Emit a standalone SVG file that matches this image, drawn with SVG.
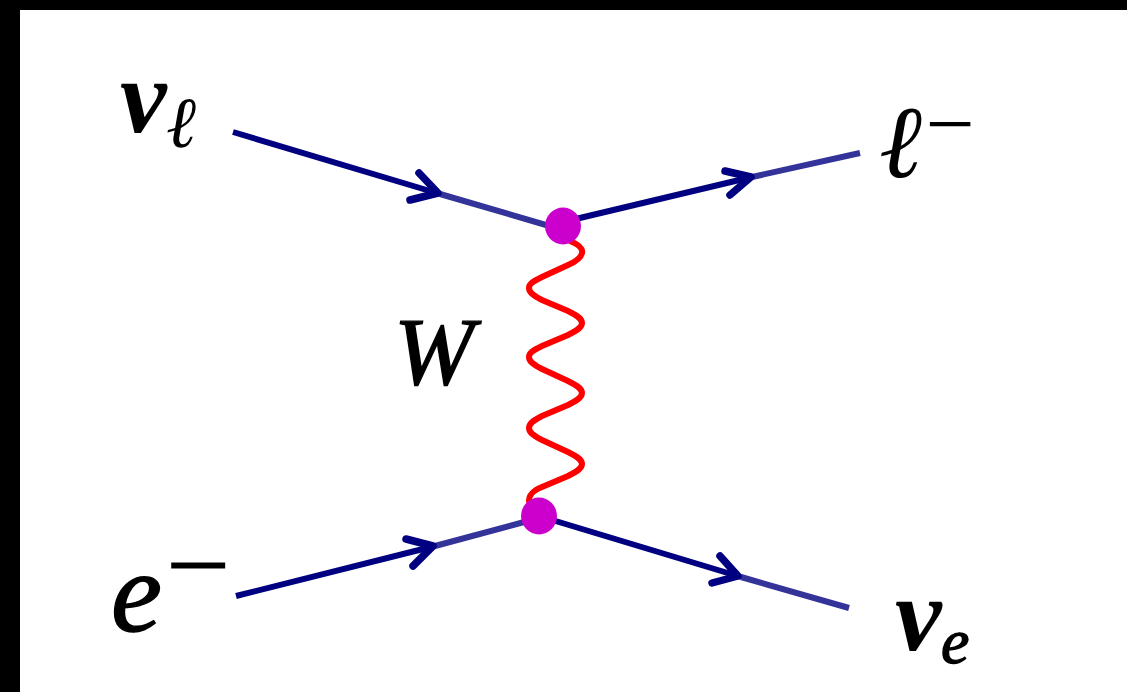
<svg xmlns="http://www.w3.org/2000/svg" width="1127" height="692" viewBox="0 0 1127 692">
<defs><filter id="soft" x="-20%" y="-20%" width="140%" height="140%"><feGaussianBlur stdDeviation="0.7"/></filter></defs>
<style>
.d{fill:none;stroke:#000080;stroke-width:7.5;stroke-linecap:round;stroke-linejoin:round}
.l{fill:none;stroke:#333399;stroke-width:6}
.b{fill:none;stroke:#000080;stroke-width:6;stroke-linecap:butt}
.w{fill:none;stroke:#ff0000;stroke-width:6;stroke-linecap:round}
.v{fill:#cc00cc}
text{font-family:'Liberation Serif',serif;font-style:italic;fill:#000;filter:url(#soft);text-rendering:geometricPrecision}
.h{stroke:#000;stroke-width:1.4}
</style>
<rect width="1127" height="692" fill="#fff"/>
<rect width="1127" height="10" fill="#000"/>
<rect width="20" height="692" fill="#000"/>
<g id="connectors">
<path class="b" d="M233 132L440 194"/><path class="l" d="M440 194L563 230"/><path class="d" d="M410 200L438 193L419 173"/>
<path class="b" d="M563 222L752 177"/><path class="l" d="M752 177L860 153"/><path class="d" d="M730 195L751 177L725 171"/>
<path class="b" d="M236 596L435 546"/><path class="l" d="M435 546L539 518"/><path class="d" d="M406 539L433 546L413 566"/>
<path class="b" d="M539 516L741 577"/><path class="l" d="M741 577L849 608"/><path class="d" d="M720 556L738 576L712 583"/>
<path class="w" d="M570 241C580 245 583 249 582 253C581 258 575 262 568 265L542 277C532 282 529 284 529 288C529 292 532 295 542 300L568 311C578 316 582 319 582 323C582 327 578 330 568 335L542 346C532 351 529 353 529 357C529 361 532 364 542 369L568 381C578 386 582 389 582 393C582 397 578 400 568 405L542 416C532 421 529 424 529 428C529 432 532 435 542 440L568 452C578 457 582 460 582 464C582 468 578 471 568 476L542 487C532 491 529 495 529 501"/>
</g>
<g id="vertex-top"><ellipse class="v" cx="563" cy="226" rx="18" ry="18.5"/></g>
<g id="vertex-bottom"><ellipse class="v" cx="539" cy="516" rx="18" ry="18.5"/></g>
<g id="label-nu-l"><text x="120" y="132" font-size="105" font-weight="bold">ν</text><text x="166" y="147" font-size="72" font-family="DejaVu Serif">ℓ</text></g>
<g id="label-l"><text x="879" y="177" font-size="103" font-family="DejaVu Serif">ℓ</text><text x="920" y="153" font-size="87">−</text></g>
<g id="label-w"><text class="h" x="394" y="384" font-size="96">W</text></g>
<g id="label-e"><text class="h" x="111" y="631" font-size="115">e</text><text x="158" y="604" font-size="116">−</text></g>
<g id="label-nu-e"><text x="895" y="650" font-size="105" font-weight="bold">ν</text><text class="h" x="941" y="663" font-size="64">e</text></g>
</svg>
